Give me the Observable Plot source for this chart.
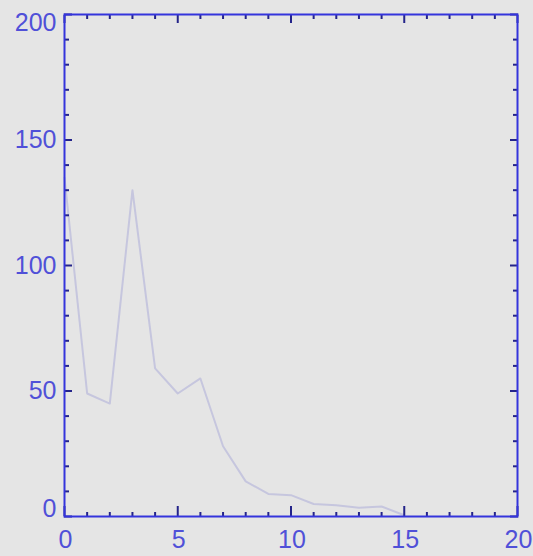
<!DOCTYPE html>
<html>
<head>
<meta charset="utf-8">
<script src="https://cdn.jsdelivr.net/npm/d3@7"></script>
<script src="https://cdn.jsdelivr.net/npm/@observablehq/plot@0.6"></script>
<style>
  html, body { margin: 0; padding: 0; background: #e5e5e5; }
  #chart svg { display: block; }
</style>
</head>
<body>
<div id="chart"></div>
<script>
// Series: count per bin
const xs = [0, 1, 2, 3, 4, 5, 6, 7, 8, 9, 10, 11, 12, 13, 14, 15];
const counts = [135, 49, 45, 130, 59, 49, 55, 28, 14, 9, 8.5, 5, 4.5, 3.5, 4, 0.5];

// Axis ticks and labels
const xMajor = [0, 5, 10, 15, 20];
const xMinor = d3.range(0, 21, 1).filter(d => d % 5 !== 0);
const yMajor = [0, 50, 100, 150, 200];
const yMinor = d3.range(0, 201, 10).filter(d => d % 50 !== 0);

const data = xs.map((x, i) => ({x, y: counts[i]}));

const axisBlue = "#3434dc";
const tickNavy = "#24248a";
const labelBlue = "#5050d8";
const font = "'Liberation Sans', Arial, sans-serif";
const fontSize = 25;

const tickAxes = [];
for (const anchor of ["bottom", "top"]) {
  tickAxes.push(Plot.axisX(xMajor, {anchor, tickSize: anchor === "bottom" ? -10 : -8, stroke: tickNavy, strokeWidth: 2, label: null, text: null}));
  tickAxes.push(Plot.axisX(xMinor, {anchor, tickSize: -4, stroke: tickNavy, strokeWidth: 2, label: null, text: null}));
}
for (const anchor of ["left", "right"]) {
  tickAxes.push(Plot.axisY(yMajor, {anchor, tickSize: -8, stroke: tickNavy, strokeWidth: 2, label: null, text: null}));
  tickAxes.push(Plot.axisY(yMinor, {anchor, tickSize: -5, stroke: tickNavy, strokeWidth: 2, label: null, text: null}));
}

const labelStyle = {fill: labelBlue, fontSize, fontFamily: font};

const chart = Plot.plot({
  width: 533,
  height: 556,
  marginLeft: 64,
  marginRight: 16,
  marginTop: 14,
  marginBottom: 40,
  style: {background: "#e5e5e5", fontFamily: font},
  x: {domain: [0, 20], axis: null},
  y: {domain: [0, 200], axis: null},
  marks: [
    Plot.line(data, {x: "x", y: "y", stroke: "#c6c6de", strokeWidth: 2, curve: "linear"}),
    ...tickAxes,
    Plot.frame({stroke: axisBlue, strokeWidth: 2}),
    // y labels: end ones pulled inside the frame
    Plot.text(yMajor.filter(d => d > 0 && d < 200), {x: 0, y: d => d, text: d => String(d), textAnchor: "end", dx: -8, dy: 0, ...labelStyle}),
    Plot.text([200], {x: 0, y: d => d, text: d => String(d), textAnchor: "end", dx: -8, dy: 8, ...labelStyle}),
    Plot.text([0], {x: 0, y: d => d, text: d => String(d), textAnchor: "end", dx: -8, dy: -8, ...labelStyle}),
    // x labels
    Plot.text(xMajor, {x: d => d, frameAnchor: "bottom", text: d => String(d), dy: 31, dx: 1, ...labelStyle})
  ]
});

document.getElementById("chart").appendChild(chart);
</script>
</body>
</html>
